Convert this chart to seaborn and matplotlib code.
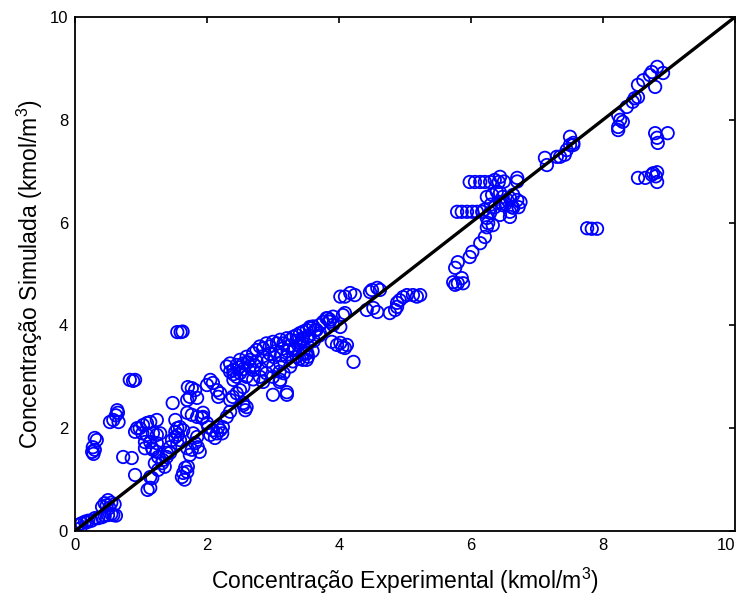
import matplotlib
matplotlib.use("Agg")
import matplotlib.pyplot as plt
import seaborn as sns
import pandas as pd

# ---- data (experimental vs simulated concentration, kmol/m3) ----
pts_origin = [(0.05,0.12),(0.08,0.05),(0.1,0.15),(0.15,0.18),(0.18,0.17),(0.2,0.2),(0.25,0.2),
              (0.3,0.25),(0.35,0.25),(0.41,0.27),(0.45,0.3),(0.5,0.31),(0.55,0.33),(0.58,0.31),
              (0.62,0.3),(0.41,0.47),(0.45,0.54),(0.5,0.6),(0.55,0.55),(0.6,0.52),(0.48,0.5),(0.52,0.45)]
pts_low = [(0.26,1.54),(0.27,1.63),(0.3,1.58),(0.3,1.81),(0.33,1.77),(0.28,1.5),
           (0.53,2.12),(0.58,2.16),(0.64,2.35),(0.65,2.3),(0.66,2.12),(0.62,2.25),
           (0.83,2.94),(0.88,2.92),(0.91,2.94),
           (0.94,2.0),(0.98,2.0),(1.03,2.06),(1.09,2.1),(1.14,2.12),(1.24,2.16),(0.91,1.93),
           (1.02,1.9),(1.09,1.87),(1.18,1.9),(1.24,1.87),(1.29,1.9),(1.06,1.73),(1.14,1.73),
           (1.24,1.71),(1.06,1.61),(1.17,1.61),(0.73,1.44),(0.86,1.42),(0.91,1.09),(1.14,1.05),
           (1.17,1.03),(1.14,0.84),(1.1,0.8),(1.18,1.58),(1.24,1.54),(1.26,1.44),(1.21,1.32),
           (1.32,1.32),(1.33,1.38),(1.39,1.44),(1.44,1.52),(1.36,1.25),(1.26,1.19),(1.52,2.16),
           (1.55,2.0),(1.52,1.93),(1.56,1.87),(1.52,1.83),(1.59,1.77),(1.55,1.71),(1.48,2.49),
           (1.7,2.55),(1.71,2.8),(1.77,2.78),(1.82,2.74),(1.85,2.59),(1.74,2.61),(1.7,2.3),
           (1.77,2.26),(1.85,2.22),(1.92,2.2),(1.94,2.3),(1.67,1.23),(1.7,1.15),(1.64,1.13),
           (1.71,1.25),(1.62,1.05),(1.66,1.0),(1.79,1.9),(1.85,1.83),(1.82,1.71),(1.86,1.63),
           (1.89,1.54),(1.77,1.58),(1.7,1.61),(1.74,1.48),(1.59,2.02),(1.64,1.96),(1.47,1.77),
           (1.44,1.63),(1.39,1.52),(1.55,3.87),(1.6,3.87),(1.63,3.88)]
pts_mid = [(2.05,2.94),(2.09,2.88),(2.0,2.84),(2.15,2.74),(2.2,2.68),(2.17,2.61),(2.02,2.02),
           (2.09,1.96),(2.17,2.02),(2.15,1.9),(2.23,1.9),(2.24,2.02),(2.05,1.87),(2.12,1.81),
           (2.2,1.96),(2.3,2.22),(2.35,2.32),(1.94,2.22),(2.0,2.1),(2.55,2.45),(2.6,2.41),
           (2.58,2.35),(2.55,2.49),(3.21,2.7),(3.21,2.65),(2.35,2.55),(2.39,2.61),(2.45,2.68),
           (2.5,2.74),(2.55,2.8)]
pts_band = [(2.30,3.20),(2.35,3.26),(2.40,3.13),(2.45,3.23),(2.50,3.33),(2.55,3.26),(2.60,3.39),
            (2.65,3.33),(2.70,3.46),(2.75,3.52),(2.80,3.59),(2.85,3.55),(2.90,3.65),(2.95,3.59),
            (3.00,3.68),(3.06,3.65),(3.11,3.72),(3.16,3.65),(3.21,3.75),(3.26,3.72),(3.31,3.78),
            (3.36,3.81),(3.41,3.85),(3.46,3.88),(3.51,3.91),(3.56,3.94),(3.61,3.98),(3.66,3.91),
            (3.71,4.01),(3.76,4.07),(3.81,4.14),(3.86,4.11),(3.91,4.17),(3.41,3.65),(3.31,3.52),
            (3.21,3.39),(3.11,3.26),(3.00,3.20),(2.90,3.07),(2.80,3.00),(2.70,3.13),(2.60,3.00),
            (2.50,3.07),(2.40,2.94),(3.36,3.39),(3.46,3.46),(3.51,3.33),(3.26,3.20),(3.16,3.07),
            (3.11,2.94),(2.4,3.05),(2.45,3.0),(2.55,3.15),(2.65,3.2),(2.75,3.3),(2.85,3.4),
            (2.95,3.45),(3.05,3.5),(3.15,3.55),(3.25,3.6),(3.35,3.7),(3.45,3.75),(3.55,3.8),
            (2.35,3.1),(2.48,3.18),(2.62,3.28),(2.72,3.22),(2.82,3.15),(2.92,3.3),(3.02,3.38),
            (3.12,3.42),(3.22,3.5),(3.32,3.55),(3.42,3.58),(3.52,3.62),(3.62,3.7),(3.7,3.8),
            (2.7,2.95),(2.85,2.9),(3.0,3.0),(3.1,3.1),(3.3,3.3),(3.4,3.35),(3.5,3.45),(3.6,3.5),
            (3.0,2.65),(3.1,2.9),(3.45,3.33),(3.52,3.46),(3.53,3.39),(3.56,3.97),(3.64,3.91),
            (3.71,3.85),(3.52,3.77),(3.45,3.72)]
pts_four = [(3.83,4.14),(3.86,4.07),(4.06,4.2),(4.09,4.24),(3.91,4.01),(4.02,3.97),(3.89,3.68),
            (3.97,3.62),(4.05,3.58),(4.09,3.56),(4.02,3.66),(4.12,3.62),(4.22,3.29),
            (4.02,4.56),(4.09,4.56),(4.17,4.63),(4.24,4.59),(4.5,4.69),(4.58,4.73),(4.62,4.69),
            (4.47,4.65),(4.42,4.3),(4.52,4.34),(4.58,4.26),(4.77,4.24),(4.85,4.3),(4.88,4.44),
            (4.92,4.49),(4.97,4.55),(5.03,4.59),(5.12,4.59),(5.23,4.59),(4.88,4.36),(5.18,4.56)]
pts_six = [(5.98,6.79),(6.06,6.79),(6.14,6.79),(6.21,6.79),(6.29,6.79),(6.36,6.83),(6.44,6.89),
           (6.42,6.79),(6.5,6.8),(6.7,6.87),(6.7,6.8),(5.79,6.21),(5.86,6.21),(5.94,6.21),
           (6.02,6.21),(6.09,6.21),(6.17,6.21),(6.24,6.5),(6.32,6.54),(6.39,6.6),(6.44,6.58),
           (6.48,6.5),(6.55,6.44),(6.59,6.48),(6.64,6.54),(6.7,6.44),(6.62,6.3),(6.59,6.21),
           (6.59,6.11),(6.52,6.36),(6.44,6.4),(6.36,6.3),(6.29,6.19),(6.24,6.09),(6.26,5.99),
           (6.33,5.95),(6.44,6.15),(6.48,6.34),(6.64,6.29),(6.75,6.4),(6.72,6.3),(6.2,6.25),
           (6.3,6.35),(6.24,5.91),(6.21,5.72),(6.14,5.6),(6.02,5.43),(5.98,5.33),(5.8,5.23),
           (5.76,5.12),(5.73,4.84),(5.8,4.82),(5.88,4.82),(5.86,4.92),(5.76,4.79)]
pts_high = [(7.12,7.26),(7.15,7.12),(7.3,7.28),(7.35,7.28),(7.42,7.32),(7.45,7.41),(7.5,7.51),
            (7.55,7.55),(7.5,7.67),(7.55,7.51),(7.76,5.89),(7.83,5.88),(7.91,5.88),
            (8.23,8.09),(8.26,8.0),(8.3,7.96),(8.23,7.86),(8.23,7.8),(8.36,8.25),(8.45,8.35),
            (8.48,8.42),(8.53,8.44),(8.53,8.68),(8.61,8.77),(8.71,8.87),(8.82,9.03),(8.79,8.64),
            (8.91,8.91),(8.74,8.93),(8.79,7.74),(8.82,7.65),(8.83,7.55),(8.98,7.74),
            (8.53,6.87),(8.64,6.87),(8.74,6.93),(8.82,6.98),(8.82,6.79),(8.76,6.96),(8.8,6.9)]

identity_x = [0, 10]
identity_y = [0, 10]
tick_values = [0, 2, 4, 6, 8, 10]

all_pts = pts_origin + pts_low + pts_mid + pts_band + pts_four + pts_six + pts_high
df = pd.DataFrame(all_pts, columns=["exp", "sim"])

sns.set_style("white")
plt.rcParams["font.family"] = ["Liberation Sans", "DejaVu Sans"]
plt.rcParams["mathtext.fontset"] = "custom"
plt.rcParams["mathtext.rm"] = "Liberation Sans"
plt.rcParams["mathtext.default"] = "regular"
plt.rcParams["text.color"] = "black"
plt.rcParams["axes.labelcolor"] = "black"

fig = plt.figure(figsize=(7.37, 6.01), dpi=100)
ax = fig.add_axes([75/737, 70/601, 660/737, 514/601])

sns.scatterplot(data=df, x="exp", y="sim", ax=ax, marker="o", s=80,
                facecolors="none", edgecolor="#0000FF", linewidth=1.3, zorder=2)
sns.lineplot(x=identity_x, y=identity_y, ax=ax, color="black", linewidth=2.4, zorder=3)

ax.set_xlim(0, 10)
ax.set_ylim(0, 10)
ax.set_xticks(tick_values)
ax.set_yticks(tick_values)
ax.set_xticklabels([str(v) for v in tick_values])
ax.set_yticklabels([str(v) for v in tick_values])
ax.tick_params(direction="in", top=True, right=True, length=4, width=1.2,
               labelsize=12, colors="black", pad=5)
xl = ax.get_xticklabels()
xl[-1].set_horizontalalignment("right")
for sp in ax.spines.values():
    sp.set_visible(True)
    sp.set_color("black")
    sp.set_linewidth(1.3)

ax.set_xlabel("Concentração Experimental (kmol/m$^3$)", fontsize=16.5, labelpad=9)
ax.set_ylabel("Concentração Simulada (kmol/m$^3$)", fontsize=16.5, labelpad=3)

fig.savefig("out.png", dpi=100)
